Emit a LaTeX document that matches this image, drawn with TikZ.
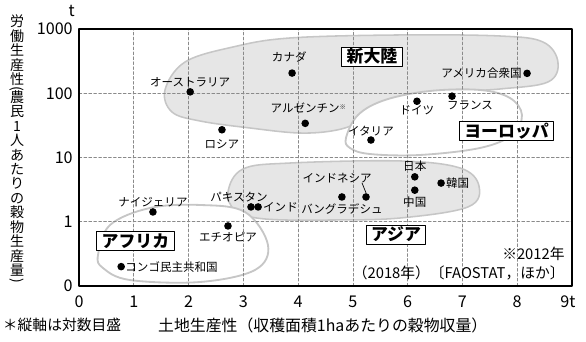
\documentclass[tikz,border=0pt]{standalone}
\usepackage{fontspec}
\setmainfont{Noto Sans CJK JP}
\usetikzlibrary{positioning}
\definecolor{zone}{HTML}{E6E6E6}
\definecolor{zoneline}{HTML}{C6C6C6}
\definecolor{gridc}{HTML}{8A8A8A}
\newcommand{\vopen}{\rotatebox{-90}{(}}
\newcommand{\vclose}{\rotatebox{-90}{)}}
\tikzset{
	lab/.style={font=\fontsize{8.2}{9}\selectfont,inner sep=0pt},
	tick/.style={font=\fontsize{11.5}{12}\selectfont,inner sep=0pt},
	note/.style={font=\fontsize{10.5}{11}\selectfont,inner sep=0pt},
	region/.style={draw=black,line width=0.6pt,fill=white,font=\fontsize{12}{13}\selectfont\bfseries,inner xsep=3.5pt,inner ysep=0pt,minimum height=13.5pt},
	gridline/.style={gridc,line width=0.5pt,dash pattern=on 2pt off 1.5pt},
	blob/.style={fill=zone,draw=zoneline,line width=1.1pt},
	hollow/.style={fill=white,draw=zoneline,line width=1.3pt}
}
\begin{document}
\begin{tikzpicture}[x=1.3694cm,y=1.6063cm,line join=round,line cap=round]
				\useasboundingbox (-1.975cm,-1.4cm) rectangle (12.675cm,7.15cm);
				\path[blob] plot[smooth cycle,tension=0.6] coordinates {(1.570,3.051) (1.935,3.486) (2.811,3.720) (3.852,3.860) (5.860,3.907) (7.685,3.891) (8.470,3.798) (8.744,3.486) (8.562,3.175) (7.685,3.066) (6.590,3.004) (5.860,2.848) (5.221,2.584) (4.710,2.428) (4.034,2.381) (3.122,2.459) (2.209,2.568) (1.698,2.708)};
				\path[hollow] plot[smooth cycle,tension=0.6] coordinates {(4.874,2.304) (5.093,2.661) (5.586,2.895) (6.407,3.035) (7.320,3.051) (7.868,2.926) (8.087,2.661) (7.904,2.350) (7.320,2.148) (6.225,2.039) (5.312,2.054) (4.947,2.148)};
				\path[blob] plot[smooth cycle,tension=0.6] coordinates {(2.720,1.463) (2.994,1.821) (3.852,1.914) (5.860,1.946) (6.955,1.837) (7.302,1.556) (7.101,1.230) (5.860,1.058) (4.582,1.027) (3.395,1.043) (2.866,1.167)};
				\path[hollow] plot[smooth cycle,tension=0.6] coordinates {(0.347,0.482) (0.566,0.949) (1.296,1.214) (2.209,1.261) (3.030,1.152) (3.450,0.638) (3.213,0.249) (2.209,0.062) (0.931,0.093) (0.438,0.280)};
				\foreach \x in {1,...,8} \draw[gridline] (\x,0) -- (\x,4);
				\foreach \y in {1,2,3} \draw[gridline] (0,\y) -- (9,\y);
				\draw[line width=0.9pt] (0,0) rectangle (9,4);
				\foreach \x in {0,...,8} \node[tick,below=0.24cm] (x\x) at (\x,0) {\x};
				\node[tick,below=0.24cm,xshift=-0.1cm] (x9) at (9,0) {9t};
				\foreach \y/\t in {0/0,1/1,2/10,3/100,4/1000} \node[tick,left=0.15cm] (y\y) at (0,\y) {\t};
				\node[tick,above left=0.3cm and 0.1cm] (yt) at (0,4) {t};
				\node[align=center,inner sep=0pt,font=\fontsize{10}{10.3}\selectfont] (ytitle) at (-1.13,2.13) {労\\働\\生\\産\\性\\[-8.8pt]\vopen\\[-1.8pt]農\\民\\1\\人\\あ\\た\\り\\の\\穀\\物\\生\\産\\量\\[-8.3pt]\vclose};
				\node[font=\fontsize{11.3}{12}\selectfont,inner sep=0pt] (xtitle) at (4.45,-0.61) {土地生産性（収穫面積1haあたりの穀物収量）};
				\node[font=\fontsize{10.5}{11}\selectfont,inner sep=0pt] (logn) at (-0.31,-0.61) {＊縦軸は対数目盛};
				\foreach \n/\x/\v in {aus/2.03/105,rus/2.61/27,can/3.89/206,usa/8.18/204,arg/4.13/34,ger/6.17/75,fra/6.81/90,ita/5.33/18.7,jpn/6.13/5,chn/6.13/3.1,kor/6.61/4,idn/5.24/2.43,bgd/4.80/2.43,pak/3.14/1.7,ind/3.27/1.7,nga/1.35/1.42,eth/2.72/0.86,cod/0.77/0.2}
					\fill (\x,{log10(\v)+1}) coordinate (\n) circle (2.7pt);
				\node[lab,above=0.12cm of aus] (ausl) {オーストラリア};
				\node[lab,below=0.25cm of rus] (rusl) {ロシア};
				\node[lab,above=0.27cm of can,xshift=-0.07cm] (canl) {カナダ};
				\node[lab,above=0.25cm of arg] (argl) {アルゼンチン\rlap{\raisebox{0.5ex}{\fontsize{4.5}{5}\selectfont ※}}};
				\node[lab,left=0.13cm of usa] (usal) {アメリカ合衆国};
				\node[lab,below=0.1cm of ger] (gerl) {ドイツ};
				\node[lab,below right=0.1cm and -0.13cm of fra] (fral) {フランス};
				\node[lab,above=0.1cm of ita] (ital) {イタリア};
				\node[lab,above=0.12cm of jpn] (jpnl) {日本};
				\node[lab,below=0.17cm of chn] (chnl) {中国};
				\node[lab,right=0.12cm of kor] (korl) {韓国};
				\node[lab,above left=0.35cm and -0.15cm of idn] (idnl) {インドネシア};
				\draw[line width=0.5pt] ([xshift=-0.25cm]idnl.south east) -- ([yshift=0.1cm]idn);
				\node[lab,below=0.15cm of bgd] (bgdl) {バングラデシュ};
				\node[lab,above=0.12cm of pak,xshift=-0.3cm] (pakl) {パキスタン};
				\node[lab,right=0.12cm of ind] (indl) {インド};
				\node[lab,below=0.15cm of eth] (ethl) {エチオピア};
				\node[lab,above=0.12cm of nga] (ngal) {ナイジェリア};
				\node[lab,right=0.1cm of cod] (codl) {コンゴ民主共和国};
				\node[region] (nwr) at (5.349,3.572) {新大陸};
				\node[region] (eur) at (7.804,2.412) {ヨーロッパ};
				\node[region] (asr) at (5.787,0.802) {アジア};
				\node[region] (afr) at (1.031,0.700) {アフリカ};
				\node[note,anchor=east] (yr) at (8.87,0.50) {※2012年};
				\node[note,anchor=east] (src) at (8.87,0.20) {（2018年）〔FAOSTAT，ほか〕};
			\end{tikzpicture}
\end{document}
